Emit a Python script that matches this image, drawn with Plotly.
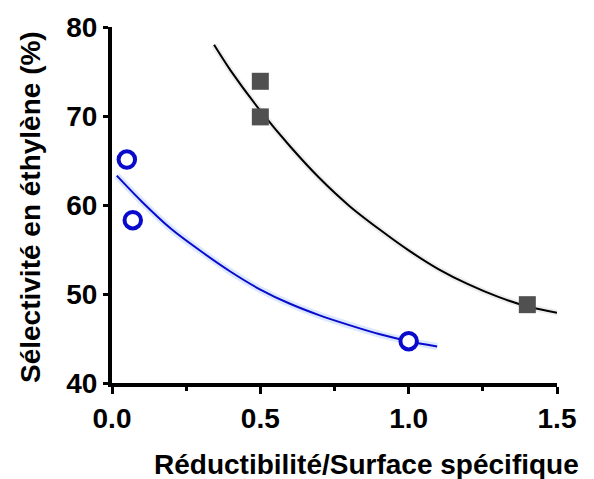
import plotly.graph_objects as go

# Measured points
sq_x = [0.5, 0.5, 1.4]
sq_y = [73.9, 69.9, 48.8]
circ_x = [0.05, 0.07, 1.0]
circ_y = [65.1, 58.3, 44.7]

# Fitted trend curves, sampled along their length
fit_black_x = [0.344, 0.40, 0.50, 0.60, 0.70, 0.80, 0.90, 1.00, 1.10, 1.20, 1.30, 1.40, 1.50]
fit_black_y = [78.0, 75.1, 70.6, 66.6, 63.0, 59.9, 57.3, 54.9, 52.8, 51.1, 49.7, 48.6, 47.9]
fit_blue_x = [0.016, 0.10, 0.20, 0.30, 0.40, 0.50, 0.60, 0.70, 0.80, 0.90, 1.00, 1.096]
fit_blue_y = [63.3, 60.4, 57.3, 54.8, 52.5, 50.5, 48.9, 47.6, 46.5, 45.5, 44.7, 44.1]

x_ticks = [0.0, 0.5, 1.0, 1.5]
x_labels = ["0.0", "0.5", "1.0", "1.5"]
y_ticks = [40, 50, 60, 70, 80]
y_labels = ["40", "50", "60", "70", "80"]

BLUE = "#0a0acc"
GREY = "#505050"
FONT = "Liberation Sans, Arial, sans-serif"

fig = go.Figure()

# soft halos under the curves
fig.add_trace(go.Scatter(x=fit_black_x, y=fit_black_y, mode="lines",
                         line=dict(color="rgba(0,0,0,0.07)", width=6, shape="spline", smoothing=0.8),
                         hoverinfo="skip", showlegend=False))
fig.add_trace(go.Scatter(x=fit_blue_x, y=fit_blue_y, mode="lines",
                         line=dict(color="rgba(90,150,255,0.22)", width=7, shape="spline", smoothing=0.8),
                         hoverinfo="skip", showlegend=False))

fig.add_trace(go.Scatter(x=fit_black_x, y=fit_black_y, mode="lines",
                         line=dict(color="black", width=2, shape="spline", smoothing=0.8),
                         showlegend=False))
fig.add_trace(go.Scatter(x=fit_blue_x, y=fit_blue_y, mode="lines",
                         line=dict(color=BLUE, width=2, shape="spline", smoothing=0.8),
                         showlegend=False))

fig.add_trace(go.Scatter(x=sq_x, y=sq_y, mode="markers",
                         marker=dict(symbol="square", size=17, color=GREY,
                                     line=dict(width=0)),
                         showlegend=False))
fig.add_trace(go.Scatter(x=circ_x, y=circ_y, mode="markers",
                         marker=dict(symbol="circle", size=16.5, color="white",
                                     line=dict(color=BLUE, width=4)),
                         showlegend=False))

fig.update_layout(
    width=594, height=479,
    margin=dict(l=112, r=37, t=25, b=96),
    paper_bgcolor="white", plot_bgcolor="white",
    font=dict(family=FONT, color="black"),
)

fig.update_xaxes(
    range=[0, 1.5], showgrid=False, zeroline=False,
    showline=True, linecolor="black", linewidth=4,
    ticks="outside", ticklen=7, tickwidth=3, tickcolor="black",
    tickvals=x_ticks, ticktext=x_labels, ticklabelstandoff=0,
    tickfont=dict(size=28, family=FONT, weight="bold"),
    minor=dict(ticks="outside", ticklen=4, tickwidth=3, tickcolor="black",
               tick0=0.25, dtick=0.5),
)
fig.update_yaxes(
    range=[40, 80], showgrid=False, zeroline=False,
    showline=True, linecolor="black", linewidth=4,
    ticks="outside", ticklen=5, tickwidth=3, tickcolor="black",
    tickvals=y_ticks, ticktext=y_labels,
    tickfont=dict(size=28, family=FONT, weight="bold"),
)

fig.add_annotation(text="Réductibilité/Surface spécifique", xref="paper", yref="paper",
                   x=(366 - 112) / 445, y=-(465 - 383) / 358, showarrow=False,
                   xanchor="center", yanchor="middle",
                   font=dict(size=28, family=FONT, weight="bold"))
fig.add_annotation(text="Sélectivité en éthylène (%)", xref="paper", yref="paper",
                   x=-(112 - 31) / 445, y=(383 - 206) / 358, showarrow=False,
                   textangle=-90, xanchor="center", yanchor="middle",
                   font=dict(size=28, family=FONT, weight="bold"))

fig.write_html("out.html")
